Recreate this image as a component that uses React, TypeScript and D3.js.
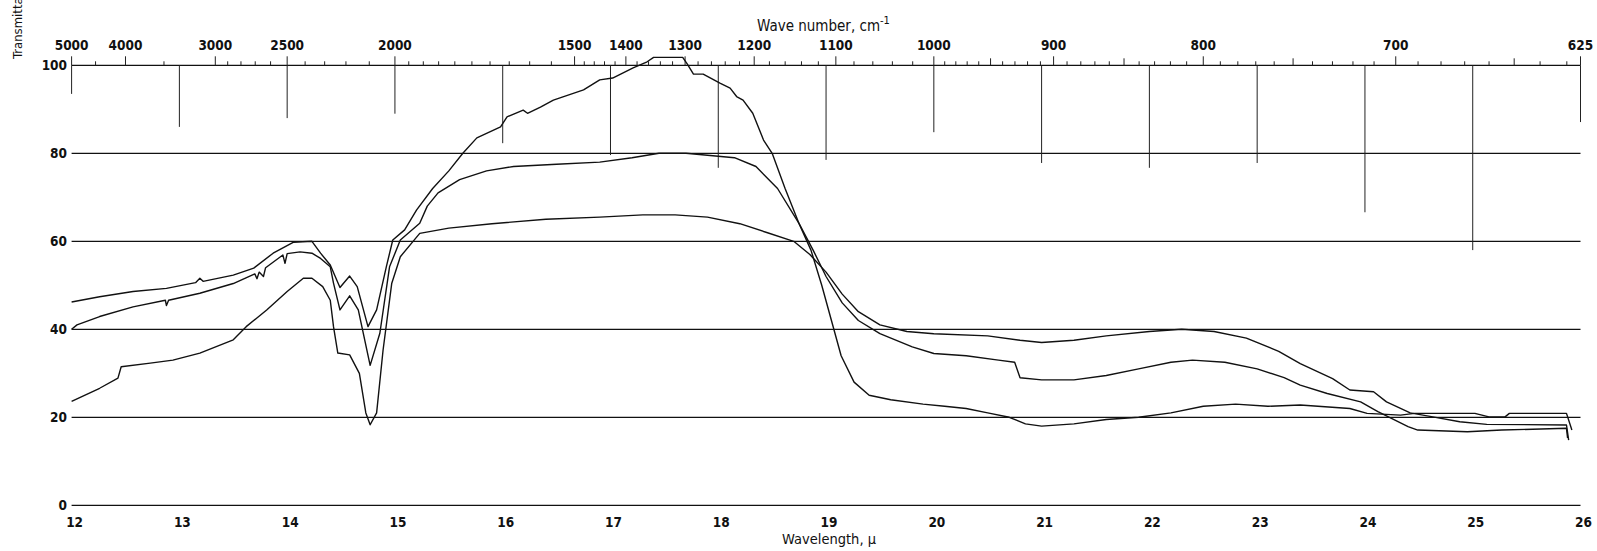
import React from "react";
import * as d3 from "d3";

// ---- data ----
const X_TICKS = [12, 13, 14, 15, 16, 17, 18, 19, 20, 21, 22, 23, 24, 25, 26];
const Y_TICKS = [0, 20, 40, 60, 80, 100];
const WN_LABELS = [5000, 4000, 3000, 2500, 2000, 1500, 1400, 1300, 1200, 1100, 1000, 900, 800, 700, 625];
// depth (in transmittance units) reached by the marker lines dropped from the 100 line at each wavelength tick
const DROP_DEPTH = [93.5, 86, 88, 89, 82.3, 79.6, 76.7, 78.5, 84.8, 77.8, 76.7, 77.8, 66.6, 58.0, 87.1];

const CURVE_A: [number, number][] = [
  [12, 46.2], [12.26, 47.4], [12.57, 48.6], [12.88, 49.3], [13.15, 50.6], [13.19, 51.6], [13.22, 50.9], [13.5, 52.3],
  [13.69, 53.9], [13.87, 57.3], [14.06, 59.8], [14.23, 60], [14.31, 57.3], [14.4, 54.6], [14.49, 49.5], [14.58, 52.1],
  [14.65, 49.7], [14.75, 40.6], [14.83, 44.4], [14.92, 54.2], [14.98, 60.3], [15.09, 62.6], [15.2, 67.1], [15.35, 72],
  [15.5, 76], [15.63, 80], [15.76, 83.5], [15.98, 86], [16.04, 88.3], [16.19, 89.8], [16.23, 89.1], [16.35, 90.5],
  [16.47, 92.1], [16.75, 94.4], [16.9, 96.7], [17.02, 97.1], [17.21, 99.4], [17.34, 100.8], [17.4, 101.8], [17.67, 101.8],
  [17.71, 100.4], [17.77, 98], [17.86, 98], [18.02, 95.9], [18.11, 94.8], [18.17, 92.9], [18.23, 92.1], [18.32, 89.1],
  [18.42, 83], [18.5, 80], [18.62, 72], [18.75, 64], [18.86, 58], [18.96, 50], [19.05, 42], [19.14, 34], [19.26, 28],
  [19.4, 25], [19.6, 24], [19.9, 23], [20.1, 22.5], [20.3, 22], [20.5, 21], [20.7, 20], [20.85, 18.5], [21.0, 18],
  [21.3, 18.5], [21.6, 19.5], [21.9, 20], [22.2, 21], [22.5, 22.5], [22.8, 23], [23.1, 22.5], [23.4, 22.8], [23.86, 22],
  [24.02, 20.9], [24.33, 20.5], [24.46, 20.9], [25.02, 20.9], [25.15, 20.1], [25.3, 20.1], [25.34, 20.9], [25.87, 20.9],
  [25.92, 17.1],
];

const CURVE_B: [number, number][] = [
  [12, 40], [12.05, 41], [12.26, 42.9], [12.57, 45.1], [12.87, 46.6], [12.88, 45.4], [12.9, 46.6], [13.19, 48.2],
  [13.5, 50.4], [13.7, 52.6], [13.72, 51.5], [13.74, 53], [13.78, 52], [13.8, 54], [13.96, 56.9], [13.98, 55],
  [14.0, 57.2], [14.12, 57.6], [14.23, 57.3], [14.31, 56.1], [14.4, 54.2], [14.43, 50.5], [14.49, 44.4], [14.58, 47.6],
  [14.66, 44.4], [14.77, 31.8], [14.86, 39.1], [14.95, 54.2], [15.05, 60.3], [15.23, 64.1], [15.3, 68], [15.4, 71],
  [15.6, 74], [15.85, 76], [16.1, 77], [16.5, 77.5], [16.9, 78], [17.2, 79], [17.45, 80], [17.7, 80], [18.15, 79],
  [18.35, 77], [18.55, 72], [18.75, 64], [18.88, 58], [19.0, 52], [19.15, 46], [19.3, 42], [19.5, 39], [19.8, 36],
  [20.0, 34.5], [20.3, 34], [20.6, 33], [20.75, 32.5], [20.8, 29], [21.0, 28.5], [21.3, 28.5], [21.6, 29.5], [21.9, 31],
  [22.2, 32.5], [22.4, 33], [22.7, 32.5], [23.0, 31], [23.25, 29], [23.4, 27.3], [23.65, 25.4], [23.96, 23.5],
  [24.12, 21.3], [24.4, 17.9], [24.49, 17.1], [24.95, 16.7], [25.27, 17.1], [25.87, 17.5], [25.88, 15.3],
];

const CURVE_C: [number, number][] = [
  [12, 23.6], [12.26, 26.6], [12.43, 28.9], [12.46, 31.5], [12.73, 32.3], [12.94, 33], [13.19, 34.6], [13.5, 37.6],
  [13.62, 40.6], [13.81, 44.4], [14.0, 48.6], [14.15, 51.6], [14.23, 51.6], [14.33, 49.7], [14.4, 46.6], [14.43, 40.6],
  [14.47, 34.6], [14.58, 34.2], [14.67, 30], [14.73, 21], [14.77, 18.3], [14.83, 21], [14.89, 35.3], [14.97, 50.4],
  [15.05, 56.5], [15.23, 61.8], [15.5, 63], [15.9, 64], [16.4, 65], [16.9, 65.5], [17.3, 66], [17.6, 66], [17.9, 65.5],
  [18.2, 64], [18.45, 62], [18.7, 60], [18.85, 57], [19.0, 53], [19.15, 48], [19.3, 44], [19.5, 41], [19.75, 39.5],
  [20.0, 39], [20.5, 38.5], [20.8, 37.5], [21.0, 37], [21.3, 37.5], [21.6, 38.5], [22.0, 39.5], [22.3, 40], [22.6, 39.5],
  [22.9, 38], [23.2, 35], [23.4, 32.2], [23.7, 28.8], [23.86, 26.2], [24.08, 25.8], [24.2, 23.5], [24.42, 21],
  [24.63, 20.1], [24.88, 19], [25.13, 18.4], [25.87, 18.25], [25.89, 14.8],
];

const CURVES = [CURVE_A, CURVE_B, CURVE_C];

// ---- layout ----
const W = 1597;
const H = 551;
const FONT = "'DejaVu Sans Condensed', 'DejaVu Sans', sans-serif";

export default function App() {
  const x = d3.scaleLinear().domain([12, 26]).range([71.6, 1580.5]);
  const y = d3.scaleLinear().domain([0, 100]).range([505.3, 65.3]);
  // wave number (cm^-1) -> chart position on the wavelength axis
  const wnPos = (wn: number) => x(10 + 1e4 / wn);

  const line = d3
    .line<[number, number]>()
    .x((d) => x(d[0]))
    .y((d) => y(d[1]));

  const minorWn = [
    4500, 3500,
    ...d3.range(2100, 3000, 100),
    ...d3.range(1550, 2000, 50),
    ...d3.range(1020, 1500, 20),
    ...d3.range(630, 1000, 10),
  ].filter((w) => !WN_LABELS.includes(w));

  const x0 = x(12);
  const x1 = x(26);

  return (
    <svg
      width={W}
      height={H}
      style={{ position: "absolute", left: 0, top: 0, background: "#fff" }}
      fontFamily={FONT}
    >
      <rect x={0} y={0} width={W} height={H} fill="#fff" />
      {/* horizontal grid */}
      {Y_TICKS.map((t) => (
        <line key={"g" + t} x1={x0} x2={x1} y1={y(t)} y2={y(t)} stroke="#111" strokeWidth={1.3} />
      ))}
      {/* y labels */}
      {Y_TICKS.map((t) => (
        <text
          key={"yl" + t}
          x={67}
          y={y(t)}
          dy="0.35em"
          textAnchor="end"
          fontSize={13.5}
          fontWeight="bold"
          fill="#111"
          style={{ fontStretch: "condensed" }}
        >
          {t}
        </text>
      ))}
      {/* marker drop lines */}
      {X_TICKS.map((t, i) => (
        <line key={"d" + t} x1={x(t)} x2={x(t)} y1={y(100)} y2={y(DROP_DEPTH[i])} stroke="#222" strokeWidth={1} />
      ))}
      {/* top wavenumber ticks */}
      {minorWn.map((w) => (
        <line
          key={"mt" + w}
          x1={wnPos(w)}
          x2={wnPos(w)}
          y1={y(100)}
          y2={y(100) - (w % 50 === 0 && w < 1500 ? 7 : 4)}
          stroke="#222"
          strokeWidth={1}
        />
      ))}
      {WN_LABELS.map((w) => (
        <line key={"Mt" + w} x1={wnPos(w)} x2={wnPos(w)} y1={y(100)} y2={y(100) - 9} stroke="#222" strokeWidth={1} />
      ))}
      {WN_LABELS.map((w) => (
        <text
          key={"wl" + w}
          x={wnPos(w)}
          y={50}
          textAnchor="middle"
          fontSize={13.5}
          fontWeight="bold"
          fill="#111"
          style={{ fontStretch: "condensed" }}
        >
          {w}
        </text>
      ))}
      {/* bottom labels */}
      {X_TICKS.map((t) => (
        <text
          key={"xl" + t}
          x={x(t) + 3}
          y={527}
          textAnchor="middle"
          fontSize={13.5}
          fontWeight="bold"
          fill="#111"
          style={{ fontStretch: "condensed" }}
        >
          {t}
        </text>
      ))}
      {/* titles */}
      <text x={x(19) + 3} y={544} textAnchor="middle" fontSize={14.5} fill="#111" style={{ fontStretch: "condensed" }}>
        Wavelength, μ
      </text>
      <text x={757} y={31} fontSize={15} fill="#111" style={{ fontStretch: "condensed" }}>
        Wave number, cm
        <tspan dy={-7} fontSize={11}>
          -1
        </tspan>
      </text>
      <text
        transform={`translate(22, 59) rotate(-90)`}
        fontSize={13}
        fill="#111"
        style={{ fontStretch: "condensed" }}
      >
        Transmittance, percent
      </text>
      {/* spectra */}
      {CURVES.map((c, i) => (
        <path key={"c" + i} d={line(c) || ""} fill="none" stroke="#111" strokeWidth={1.4} strokeLinejoin="round" />
      ))}
    </svg>
  );
}
